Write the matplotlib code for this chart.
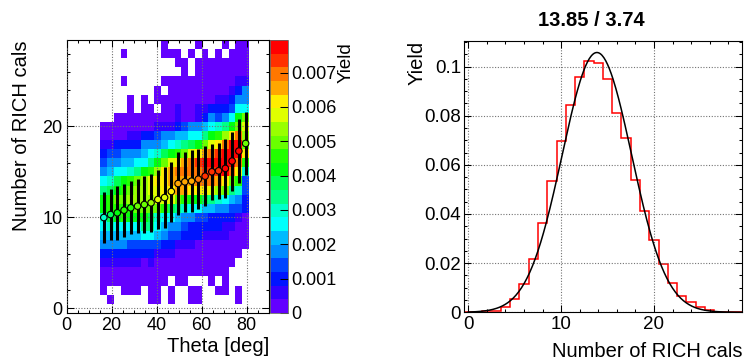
import colorsys
import numpy as np
import matplotlib
matplotlib.use("Agg")
import matplotlib.pyplot as plt
from matplotlib.colors import ListedColormap, BoundaryNorm
from matplotlib.ticker import MultipleLocator, FuncFormatter

plt.rcParams['font.family'] = ['Liberation Sans', 'DejaVu Sans']

# binning: theta in 3 deg steps, number of cals per integer
theta_edges = np.arange(15, 82, 3)
ncal_edges = np.arange(-0.5, 30, 1)

# yield level of each cell, first string = 29 cals, last = 0 cals
# '.' = empty cell, level k covers [k, k+1) * zmax / 20
zmax = 0.00795
yield_levels = [
    ".........0....0...0.00",
    "...0.....000.0.0.0.000",
    "...........00.00000000",
    "............0.00000000",
    "...0.....0000000000011",
    "........0.000000000124",
    "....0.0.00000000011244",
    "....0.00.0010011222366",
    "..000000000100124346ac",
    "0000000011123445678ace",
    "0000112234455668abdfhd",
    "11222244456789acefhjjc",
    "2334445679abcefghijjjf",
    "34455668acefghijjjjjhb",
    "456678abdfghhhhiiijhf7",
    "679abcdeffgggghhhgfcb3",
    "89abcddeeffggfffedc873",
    "abccddddeeecbaa9876542",
    "abbbbccccb987665544332",
    "79abaaa976654433222210",
    "6766668865443222221100",
    "5555556654332221111000",
    "4444333332211100000000",
    "222222221110000000000.",
    "11111101000000000000..",
    "0000000000000000000...",
    "0000000000.00...0.0...",
    "0..000.00.0..00..00.0.",
    ".0.....00.0..00.....0.",
    "......................",
]

# profile of the 2D histogram: mean and spread per theta bin
prof_mean = [9.98, 10.31, 10.5, 10.79, 11.05, 11.23, 11.41, 11.6, 11.96, 12.18, 12.84,
             13.72, 13.91, 13.98, 14.2, 14.53, 15.01, 15.12, 15.38, 16.19, 17.29, 18.13]
prof_spread = [2.85, 2.84, 2.98, 2.9, 2.93, 2.95, 3.12, 3.22, 3.2, 3.35, 3.3,
               3.42, 3.33, 3.4, 3.32, 3.3, 3.1, 3.1, 3.2, 3.25, 3.55, 3.5]

# projection on the number of cals, normalised
hist_yield = [0.0001, 0.0002, 0.0004, 0.0004, 0.002, 0.0054, 0.0114, 0.0217, 0.0362, 0.0536,
              0.0695, 0.0844, 0.0957, 0.1024, 0.1014, 0.095, 0.081, 0.0711, 0.0539, 0.0414,
              0.0294, 0.0197, 0.0118, 0.0068, 0.0041, 0.002, 0.001, 0.0003, 0.0002, 0.0001]
fit_mean = 13.85
fit_sigma = 3.74
fit_amp = 0.1057

cb_ticks = [0, 0.001, 0.002, 0.003, 0.004, 0.005, 0.006, 0.007]

# ROOT "pretty" palette, 20 contour levels
pal = []
for k in range(20):
    idx = int((k + 0.99) * 50 / 20)
    hue = 280 - (idx + 1) * 5.6
    pal.append(colorsys.hls_to_rgb(hue / 360, 0.5, 1.0))
cmap = ListedColormap(pal)
norm = BoundaryNorm(np.linspace(0, zmax, 21), 20)

chars = '0123456789abcdefghij'
grid = np.full((len(yield_levels), len(theta_edges) - 1), np.nan)
for i, row in enumerate(yield_levels):
    for j, c in enumerate(row):
        if c != '.':
            grid[len(yield_levels) - 1 - i, j] = (chars.index(c) + 0.5) * zmax / 20

theta_centers = 0.5 * (theta_edges[:-1] + theta_edges[1:])


def root_style(ax, size):
    ax.tick_params(which='both', direction='in', top=True, right=True,
                   labelsize=size, width=0.75, pad=3)
    ax.tick_params(which='major', length=5)
    ax.tick_params(which='minor', length=2.5)
    ax.grid(True, which='major', color='0.45', linestyle=(0, (1, 1.5)), linewidth=0.8)
    for s in ax.spines.values():
        s.set_linewidth(0.8)


fig = plt.figure(figsize=(7.44, 3.6), dpi=100)
ax1 = fig.add_axes([0.0896, 0.131, 0.2723, 0.7578])
cax = fig.add_axes([0.3629, 0.131, 0.0246, 0.7578])
ax2 = fig.add_axes([0.6233, 0.1325, 0.3742, 0.7544])

# 2D yield map with profile on top
mesh = ax1.pcolormesh(theta_edges, ncal_edges, np.ma.masked_invalid(grid),
                      cmap=cmap, norm=norm, edgecolors='none', antialiased=False)
ax1.errorbar(theta_centers, prof_mean, yerr=prof_spread, fmt='none',
             ecolor='black', elinewidth=2.2, capsize=0, zorder=3)
rows = np.rint(prof_mean).astype(int)
mcolors = [cmap(norm(grid[r, j])) for j, r in enumerate(rows)]
ax1.scatter(theta_centers, prof_mean, s=22, c=mcolors, edgecolors='black',
            linewidths=0.8, zorder=4)

ax1.set_xlim(0, 90)
ax1.set_ylim(-0.5, 29.5)
ax1.xaxis.set_major_locator(MultipleLocator(20))
ax1.xaxis.set_minor_locator(MultipleLocator(5))
ax1.yaxis.set_major_locator(MultipleLocator(10))
ax1.yaxis.set_minor_locator(MultipleLocator(2))
root_style(ax1, 13)
ax1.set_axisbelow(False)
ax1.set_xlabel('Theta [deg]', fontsize=14.5, loc='right')
ax1.set_ylabel('Number of RICH cals', fontsize=14.5, loc='top')
ax1.xaxis.set_label_coords(1.0, -0.09)
ax1.yaxis.set_label_coords(-0.176, 1.0)

cb = fig.colorbar(mesh, cax=cax)
cb.outline.set_linewidth(0.6)
cb.outline.set_edgecolor('0.4')
cb.set_ticks(cb_ticks)
cb.ax.yaxis.set_major_formatter(FuncFormatter(lambda v, p: '0' if v == 0 else f'{v:.3f}'))
cb.ax.tick_params(direction='in', length=6, width=0.75, labelsize=13, pad=2)
cb.ax.minorticks_off()
fig.text(346 / 744, 1 - 42 / 360, 'Yield', rotation=90, ha='center', va='top', fontsize=13.5)

# projection with gaussian fit
ax2.stairs(hist_yield, ncal_edges, color='red', linewidth=1.1)
xf = np.linspace(0, 29.5, 300)
ax2.plot(xf, fit_amp * np.exp(-0.5 * ((xf - fit_mean) / fit_sigma) ** 2),
         color='black', linewidth=1.1)
ax2.set_xlim(-0.5, 29.5)
ax2.set_ylim(0, 0.1105)
ax2.xaxis.set_major_locator(MultipleLocator(10))
ax2.xaxis.set_minor_locator(MultipleLocator(2))
ax2.yaxis.set_major_locator(MultipleLocator(0.02))
ax2.yaxis.set_minor_locator(MultipleLocator(0.005))
ax2.yaxis.set_major_formatter(FuncFormatter(lambda v, p: f'{v:g}'))
root_style(ax2, 13.5)
ax2.tick_params(axis='y', pad=2)
ax2.set_xlabel('Number of RICH cals', fontsize=14.5, loc='right')
ax2.set_ylabel('Yield', fontsize=14.5, loc='top')
ax2.xaxis.set_label_coords(1.0, -0.11)
ax2.yaxis.set_label_coords(-0.132, 1.0)
fig.text(591 / 744, 1 - 20 / 360, f'{fit_mean:.2f} / {fit_sigma:.2f}',
         ha='center', va='center', fontsize=14.5, fontweight='bold')

fig.savefig('out.png', dpi=100)
